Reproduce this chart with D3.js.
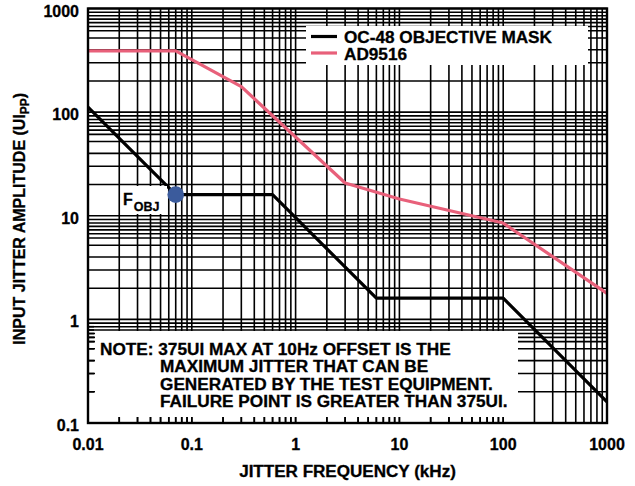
<!DOCTYPE html>
<html>
<head>
<meta charset="utf-8">
<script src="https://cdn.jsdelivr.net/npm/d3@7"></script>
<style>
  html, body { margin: 0; padding: 0; background: #fff; }
  svg { display: block; }
  text { font-family: "Liberation Sans", Arial, Helvetica, sans-serif; font-weight: bold; fill: #000; stroke: #000; stroke-width: 0.3px; }
</style>
</head>
<body>
<svg id="chart" width="635" height="486"></svg>
<script>
// ---------------- data ----------------
const maskFreq = [0.01, 0.07, 0.6, 6, 100, 1000];          // kHz
const maskAmp  = [112, 16, 16, 1.6, 1.6, 0.16];             // UIpp
const adFreq   = [0.01, 0.07, 0.3, 3, 10, 100, 1000];       // kHz
const adAmp    = [390, 390, 176, 20.7, 14.5, 8.5, 1.78];    // UIpp
const fObj     = [0.07, 16];                                 // objective corner point
const xTickValues = [0.01, 0.1, 1, 10, 100, 1000];
const xTickLabels = ["0.01", "0.1", "1", "10", "100", "1000"];
const yTickValues = [0.1, 1, 10, 100, 1000];
const yTickLabels = ["0.1", "1", "10", "100", "1000"];
const xMinorMult = [2, 3, 4, 5, 6, 7, 8, 9];
const yMinorMult = [2, 3, 4, 5.2, 6.1, 6.7, 7.3, 7.9, 8.5, 9.2];
const seriesNames = ["OC-48 OBJECTIVE MASK", "AD9516"];
const noteLines = [
  "NOTE: 375UI MAX AT 10Hz OFFSET IS THE",
  "MAXIMUM JITTER THAT CAN BE",
  "GENERATED BY THE TEST EQUIPMENT.",
  "FAILURE POINT IS GREATER THAN 375UI."
];

// ---------------- layout ----------------
const L = 88, R = 607, T = 8.5, B = 423;
const svg = d3.select("#chart");
const x = d3.scaleLog().domain([0.01, 1000]).range([L, R]);
const y = d3.scaleLog().domain([0.1, 1000]).range([B, T]);
const pink = "#e8607a", blue = "#3b5b9c";

function stretch(sel, k) {
  sel.each(function () {
    const len = this.getComputedTextLength();
    d3.select(this).attr("textLength", len * k).attr("lengthAdjust", "spacingAndGlyphs");
  });
}

// grid values
const xGrid = [], yGrid = [];
for (let d = 0.01; d < 1000; d *= 10) xMinorMult.forEach(m => xGrid.push(+(d * m).toPrecision(6)));
xTickValues.forEach(v => xGrid.push(v));
for (let d = 0.1; d < 1000; d *= 10) yMinorMult.forEach(m => yGrid.push(+(d * m).toPrecision(6)));
yTickValues.forEach(v => yGrid.push(v));

const grid = svg.append("g").attr("stroke", "#000").attr("stroke-width", 1.6);
grid.selectAll("line.v").data(xGrid).join("line")
  .attr("x1", d => x(d)).attr("x2", d => x(d)).attr("y1", T).attr("y2", B);
grid.selectAll("line.h").data(yGrid).join("line")
  .attr("y1", d => y(d)).attr("y2", d => y(d)).attr("x1", L).attr("x2", R);

// curves
const line = d3.line().x(d => x(d[0])).y(d => y(d[1]));
svg.append("path").datum(d3.zip(maskFreq, maskAmp)).attr("d", line)
  .attr("fill", "none").attr("stroke", "#000").attr("stroke-width", 3.2).attr("stroke-linejoin", "round");
svg.append("path").datum(d3.zip(adFreq, adAmp)).attr("d", line)
  .attr("fill", "none").attr("stroke", pink).attr("stroke-width", 3.2).attr("stroke-linejoin", "round");

// note box
svg.append("rect").attr("x", 95).attr("y", 331).attr("width", 423).attr("height", 86).attr("fill", "#fff");
// edge ticks visible inside note box area
const tk = svg.append("g").attr("stroke", "#000").attr("stroke-width", 1.6);
tk.selectAll("line.bt").data(xGrid.filter(d => x(d) < 520)).join("line")
  .attr("x1", d => x(d)).attr("x2", d => x(d)).attr("y1", B).attr("y2", B - 6);
tk.selectAll("line.lt").data(yGrid.filter(d => y(d) > 325)).join("line")
  .attr("x1", L).attr("x2", L + 6).attr("y1", d => y(d)).attr("y2", d => y(d));

const noteG = svg.append("g").attr("font-size", 16);
noteG.selectAll("text").data(noteLines).join("text")
  .attr("x", (d, i) => i === 0 ? 100 : 160)
  .attr("y", (d, i) => 355 + i * 17.4)
  .text(d => d)
  .call(stretch, 1.075);

// F_OBJ label
svg.append("rect").attr("x", 121).attr("y", 186).attr("width", 46).attr("height", 28).attr("fill", "#fff");
const fl = svg.append("text").attr("x", 123).attr("y", 205).attr("font-size", 16);
fl.append("tspan").text("F");
fl.append("tspan").attr("font-size", 12.5).attr("dy", 5.5).attr("dx", 1).text("OBJ");

// objective point
svg.append("circle").attr("cx", x(fObj[0])).attr("cy", y(fObj[1])).attr("r", 8.3).attr("fill", blue);

// legend
const lg = svg.append("g");
lg.append("rect").attr("x", 306).attr("y", 26).attr("width", 282).attr("height", 39).attr("fill", "#fff");
const lgColors = ["#000", pink];
seriesNames.forEach((name, i) => {
  const yy = 36.5 + i * 16.5;
  lg.append("line").attr("x1", 311).attr("x2", 337).attr("y1", yy).attr("y2", yy)
    .attr("stroke", lgColors[i]).attr("stroke-width", 3.2);
  lg.append("text").attr("x", 344).attr("y", yy + 6.5).attr("font-size", 16).text(name).call(stretch, 1.073);
});

// frame
svg.append("rect").attr("x", L).attr("y", T).attr("width", R - L).attr("height", B - T)
  .attr("fill", "none").attr("stroke", "#000").attr("stroke-width", 2.4);

// tick labels
svg.append("g").selectAll("text").data(xTickValues).join("text")
  .attr("x", d => x(d)).attr("y", 450).attr("text-anchor", "middle").attr("font-size", 16)
  .text((d, i) => xTickLabels[i]);
svg.append("g").selectAll("text").data(yTickValues).join("text")
  .attr("x", 79).attr("y", d => y(d) + 8).attr("text-anchor", "end").attr("font-size", 16)
  .text((d, i) => yTickLabels[i]);

// axis titles
svg.append("text").attr("x", (L + R) / 2).attr("y", 477).attr("text-anchor", "middle")
  .attr("font-size", 16).text("JITTER FREQUENCY (kHz)").call(stretch, 1.066);
const yt = svg.append("text").attr("transform", `translate(25,${(T + B) / 2 + 3}) rotate(-90)`)
  .attr("text-anchor", "middle").attr("font-size", 16);
yt.append("tspan").text("INPUT JITTER AMPLITUDE (UI");
yt.append("tspan").attr("font-size", 12).attr("dy", 4).text("PP");
yt.append("tspan").attr("dy", -4).text(")");
</script>
</body>
</html>
